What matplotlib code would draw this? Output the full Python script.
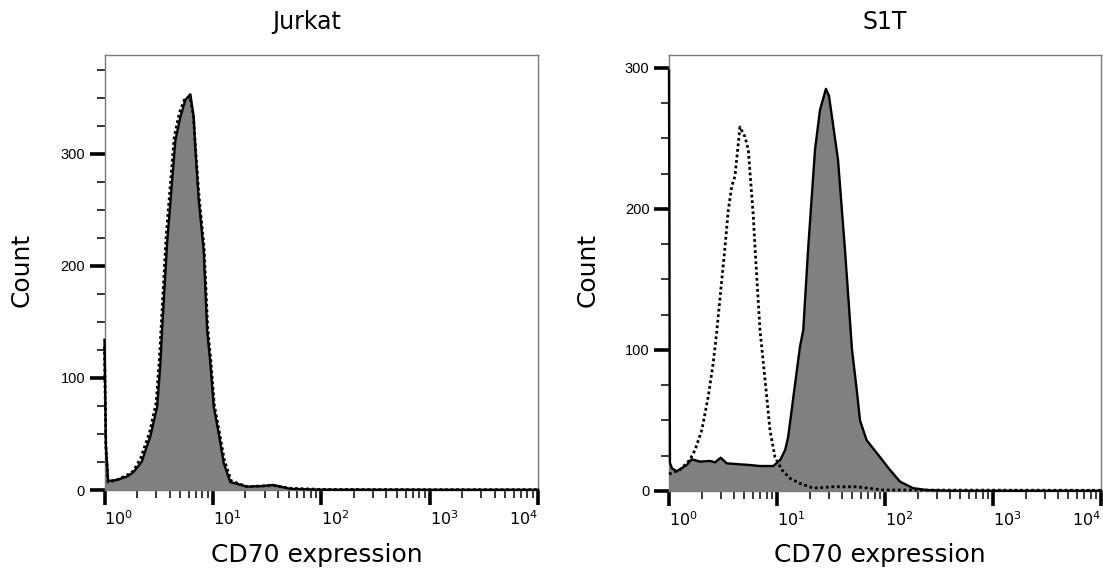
import matplotlib
matplotlib.use("Agg")
import matplotlib.pyplot as plt
from matplotlib.ticker import LogLocator, MultipleLocator, FixedLocator, NullFormatter
import numpy as np

# Jurkat: CD70 stained (filled) and control (dotted)
jurkatX = [1.0, 1.03, 1.08, 1.3, 1.62, 1.85, 2.2, 2.65, 3.06, 3.28, 3.4, 3.78, 4.51, 5.02, 5.58,
           6.2, 6.65, 6.9, 7.4, 8.23, 8.85, 9.48, 10.2, 11.3, 12.6, 14.5, 20.7, 28, 36, 52, 100, 1000, 10000]
jurkatY = [134, 40, 8, 9, 12, 16, 25, 48, 74, 113, 143, 220, 312, 333, 348,
           353, 333, 304, 259, 214, 143, 113, 74, 51, 24, 7, 3, 3.5, 4.5, 1, 0.3, 0.2, 0.2]
jurkatCtrlX = [1.0, 1.03, 1.08, 1.3, 1.6, 1.85, 2.15, 2.6, 3.0, 3.2, 3.33, 3.7, 4.4, 4.9, 5.45,
               6.1, 6.6, 6.9, 7.45, 8.3, 8.95, 9.6, 10.3, 11.4, 12.8, 14.8, 20.7, 36, 52, 100, 1000, 10000]
jurkatCtrlY = [128, 38, 7, 9, 13, 17, 28, 51, 78, 115, 145, 225, 315, 336, 348,
               351, 335, 306, 262, 216, 145, 114, 76, 53, 26, 8, 3, 4, 1.5, 0.5, 0.3, 0.3]

# S1T: CD70 stained (filled) and control (dotted)
s1tX = [1.0, 1.02, 1.066, 1.18, 1.46, 1.62, 1.94, 2.4, 2.67, 3.01, 3.42, 4.54, 5.62, 6.96, 9.24,
        10.7, 11.9, 12.7, 14.2, 16.3, 17.5, 19.4, 22.5, 25.0, 28.4, 30.3, 33.7, 36.7, 42.6, 49.5,
        54.7, 58.7, 67.6, 89.9, 111, 138, 182, 243, 400, 10000]
s1tY = [298, 20, 16, 14, 18.4, 22.5, 20.8, 21.3, 20.3, 23.6, 19.6, 18.9, 18.4, 17.7, 17.7,
        22, 29, 38.5, 67, 102, 114, 171, 242, 270, 285, 280, 255, 235, 171, 100,
        72, 50, 36, 24, 15, 6.6, 2, 0.7, 0.2, 0.2]
s1tCtrlX = [1.0, 1.26, 1.56, 1.74, 2.01, 2.31, 2.57, 2.76, 3.3, 3.54, 3.81, 4.08, 4.54, 5.05, 5.42,
            6.03, 6.25, 6.96, 7.47, 8.03, 8.61, 9.58, 11.1, 13.2, 16.3, 21.7, 33, 54.7, 96, 10000]
s1tCtrlY = [12, 15, 22, 29, 43, 67, 91, 112, 173, 199, 216, 223, 258, 251, 242,
            195, 173, 114, 91, 67, 43, 24, 15, 9, 5.4, 2, 3, 3, 0.7, 0.5]

titles = ["Jurkat", "S1T"]
yMax = [388, 309]
yTicks = [[0, 100, 200, 300], [0, 100, 200, 300]]

W, H = 1103, 577
fig = plt.figure(figsize=(W / 100, H / 100), dpi=100)
fig.set_facecolor("white")

# axes boxes in pixels: left, top, right, bottom
boxes = [(104.5, 55, 538, 490), (669, 55, 1101, 491)]
data = [(jurkatX, jurkatY, jurkatCtrlX, jurkatCtrlY), (s1tX, s1tY, s1tCtrlX, s1tCtrlY)]
titleX = [307, 885]
countX = [22, 588]
xlabelX = [317, 880]

for i in range(2):
    l, t, r, b = boxes[i]
    ax = fig.add_axes([l / W, 1 - b / H, (r - l) / W, (b - t) / H])
    x, y, xc, yc = data[i]

    ax.fill_between(x, y, 0, color="#808080", linewidth=0, zorder=2)
    ax.plot(x, y, color="black", linewidth=1.7, zorder=3, clip_on=False)
    ax.plot(xc, yc, color="black", linewidth=2.0, linestyle=(0, (1, 1)), zorder=4, clip_on=False)

    ax.set_xscale("log")
    ax.set_xlim(1, 1e4)
    ax.set_ylim(0, yMax[i])

    for side in ["top", "right", "left", "bottom"]:
        ax.spines[side].set_color("#7a7a7a")
        ax.spines[side].set_linewidth(1.0)

    ax.xaxis.set_major_locator(FixedLocator([1, 10, 100, 1000, 10000]))
    ax.xaxis.set_minor_locator(LogLocator(base=10, subs=np.arange(2, 10), numticks=20))
    ax.xaxis.set_minor_formatter(NullFormatter())
    ax.set_xticklabels([r"$\mathregular{10^{%d}}$" % k for k in range(5)])
    ax.yaxis.set_major_locator(FixedLocator(yTicks[i]))
    ax.yaxis.set_minor_locator(MultipleLocator(25))

    ax.tick_params(axis="both", which="major", direction="out", length=11, width=2.6, color="black", pad=3)
    ax.tick_params(axis="both", which="minor", direction="out", length=6, width=1.1, color="black")
    xlabs = ax.get_xticklabels()
    for k, lab in enumerate(xlabs):
        lab.set_fontsize(11.5)
        lab.set_horizontalalignment("right" if k == len(xlabs) - 1 else "left")
    for lab in ax.get_yticklabels():
        lab.set_fontfamily(["Liberation Sans Narrow", "Liberation Sans"])
        lab.set_fontsize(10.5)

    fig.text(titleX[i] / W, 1 - 22 / H, titles[i], ha="center", va="center",
             fontsize=17, family="DejaVu Sans")
    fig.text(countX[i] / W, 1 - 270 / H, "Count", ha="center", va="center", rotation=90,
             fontsize=18, family="DejaVu Sans")
    fig.text(xlabelX[i] / W, 1 - 555 / H, "CD70 expression", ha="center", va="center",
             fontsize=18, family="DejaVu Sans")

fig.savefig("out.png", dpi=100)
